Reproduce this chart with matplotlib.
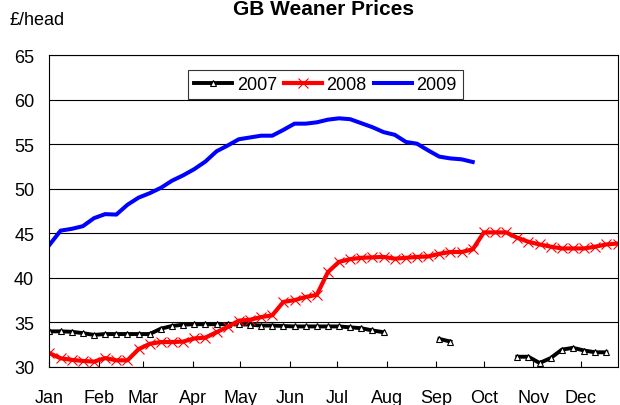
import numpy as np
import pandas as pd
import matplotlib
matplotlib.use('Agg')
import matplotlib.pyplot as plt

plt.rcParams['font.family'] = ['Liberation Sans', 'DejaVu Sans']

# weekly GB weaner prices (£/head), week 1 = first week of January
nan = np.nan
prices_2007 = [34.0, 34.0, 33.95, 33.8, 33.6, 33.7, 33.7, 33.7, 33.7, 33.7,
               34.3, 34.6, 34.75, 34.8, 34.8, 34.8, 34.8, 34.8, 34.75, 34.65,
               34.65, 34.6, 34.55, 34.55, 34.55, 34.55, 34.55, 34.45, 34.35, 34.1,
               33.9, nan, nan, nan, nan, 33.15, 32.85, nan, nan, nan,
               nan, nan, 31.15, 31.15, 30.45, 31.0, 31.95, 32.15, 31.85, 31.65,
               31.65, nan]
prices_2008 = [31.55, 30.98, 30.8, 30.68, 30.6, 31.0, 30.75, 30.75, 32.0, 32.6,
               32.8, 32.8, 32.85, 33.2, 33.3, 33.9, 34.5, 35.2, 35.3, 35.6,
               35.8, 37.3, 37.5, 37.85, 38.1, 40.65, 41.8, 42.1, 42.25, 42.3,
               42.35, 42.15, 42.25, 42.35, 42.4, 42.7, 42.9, 42.9, 43.2, 45.1,
               45.1, 45.1, 44.5, 44.05, 43.75, 43.5, 43.3, 43.3, 43.3, 43.5,
               43.75, 43.85]
prices_2009 = [43.7, 45.3, 45.5, 45.8, 46.7, 47.15, 47.1, 48.2, 49.0, 49.5,
               50.1, 50.9, 51.5, 52.2, 53.05, 54.2, 54.85, 55.55, 55.75, 55.95,
               55.95, 56.6, 57.3, 57.3, 57.45, 57.75, 57.9, 57.8, 57.35, 56.9,
               56.35, 56.05, 55.25, 55.05, 54.3, 53.6, 53.4, 53.3, 53.0]

months = ['Jan', 'Feb', 'Mar', 'Apr', 'May', 'Jun',
          'Jul', 'Aug', 'Sep', 'Oct', 'Nov', 'Dec']
yticks = [30, 35, 40, 45, 50, 55, 60, 65]

# day-of-year positions for the weeks and for the month starts
week_days = np.arange(len(prices_2008)) * 7
month_days = pd.date_range('2009-01-01', periods=12, freq='MS').dayofyear - 1

fig = plt.figure(figsize=(6.2, 4.06), dpi=100)
ax = fig.add_axes([0.0798, 0.0936, 0.9162, 0.7684])

ax.plot(week_days[:len(prices_2007)], prices_2007, color='black', lw=2.8,
        marker='^', ms=5, mfc='white', mec='black', mew=0.8, label='2007')
ax.plot(week_days[:len(prices_2008)], prices_2008, color='red', lw=3.0,
        marker='x', ms=7.5, mec='red', mew=0.8, label='2008')
ax.plot(week_days[:len(prices_2009)], prices_2009, color='blue', lw=2.9,
        label='2009')

ax.set_xlim(0, week_days[-1])
ax.set_ylim(30, 65)
ax.set_yticks(yticks)
ax.set_xticks(month_days)
ax.set_xticklabels(months)
ax.yaxis.grid(True, color='black', lw=0.8)
ax.set_axisbelow(True)
ax.tick_params(axis='x', direction='in', length=4, width=0.8, pad=15.5,
               labelsize=13)
ax.tick_params(axis='y', length=0, pad=11, labelsize=13)
for sp in ax.spines.values():
    sp.set_linewidth(0.8)
    sp.set_color('black')

leg = ax.legend(loc='center', bbox_to_anchor=(0.486, 0.906), ncol=3,
                fontsize=13, handlelength=2.1, handletextpad=0.25,
                columnspacing=0.4, borderpad=0.35, frameon=True, fancybox=False,
                borderaxespad=0)
leg.get_frame().set_edgecolor('black')
leg.get_frame().set_linewidth(0.8)

fig.text(0.522, 0.962, 'GB Weaner Prices', ha='center', va='baseline',
         fontsize=15, fontweight='bold')
fig.text(0.016, 0.938, '£/head', ha='left', va='baseline', fontsize=13)

fig.savefig('out.png', dpi=100)
